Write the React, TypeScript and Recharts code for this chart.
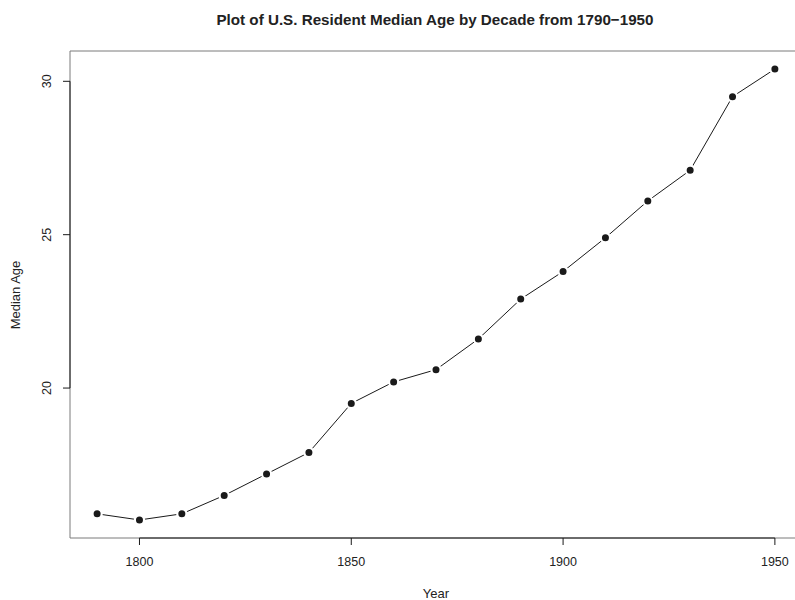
import {
  LineChart,
  Line,
  XAxis,
  YAxis,
  ReferenceArea,
  ReferenceLine,
  Customized,
} from "recharts";

// decade years and median age
const years = [1790, 1800, 1810, 1820, 1830, 1840, 1850, 1860, 1870, 1880, 1890, 1900, 1910, 1920, 1930, 1940, 1950];
const medianAge = [15.9, 15.7, 15.9, 16.5, 17.2, 17.9, 19.5, 20.2, 20.6, 21.6, 22.9, 23.8, 24.9, 26.1, 27.1, 29.5, 30.4];
const xTicks = [1800, 1850, 1900, 1950];
const yTicks = [20, 25, 30];

const title = "Plot of U.S. Resident Median Age by Decade from 1790\u22121950";

// R pads the data range by 4% on each side
const X_MIN = 1783.6;
const X_MAX = 1956.4;
const Y_MIN = 15.112;
const Y_MAX = 30.988;

const FONT = "'Liberation Sans', Arial, Helvetica, sans-serif";
const INK = "#1a1a1a";

const data = years.map((y, i) => ({ year: y, age: medianAge[i] }));

function XTick({ x, payload }: any) {
  return (
    <text
      x={x}
      y={562}
      textAnchor="middle"
      dominantBaseline="central"
      fontFamily={FONT}
      fontSize={12.5}
      fill="#222"
    >
      {payload.value}
    </text>
  );
}

function YTick({ y, payload }: any) {
  return (
    <text
      x={47}
      y={y}
      transform={`rotate(-90, 47, ${y})`}
      textAnchor="middle"
      dominantBaseline="central"
      fontFamily={FONT}
      fontSize={12.5}
      fill="#222"
    >
      {payload.value}
    </text>
  );
}

function Titles() {
  return (
    <g fontFamily={FONT} fill="#222">
      <text x={435} y={19} textAnchor="middle" dominantBaseline="central" fontSize={15.2} fontWeight="bold">
        {title}
      </text>
      <text x={436} y={593} textAnchor="middle" dominantBaseline="central" fontSize={13}>
        Year
      </text>
      <text
        x={15}
        y={295}
        transform="rotate(-90, 15, 295)"
        textAnchor="middle"
        dominantBaseline="central"
        fontSize={13}
      >
        Median Age
      </text>
    </g>
  );
}

export default function App() {
  return (
    <div style={{ position: "absolute", left: 0, top: 0, width: 795, height: 600, overflow: "hidden", background: "#fff" }}>
      <LineChart
        width={812}
        height={600}
        data={data}
        margin={{ top: 51, right: 10, bottom: 0, left: 0 }}
      >
        <XAxis
          dataKey="year"
          type="number"
          domain={[X_MIN, X_MAX]}
          ticks={xTicks}
          allowDataOverflow
          axisLine={false}
          tickLine={{ stroke: INK }}
          tickSize={7}
          tick={<XTick />}
          height={62}
        />
        <YAxis
          type="number"
          domain={[Y_MIN, Y_MAX]}
          ticks={yTicks}
          allowDataOverflow
          axisLine={false}
          tickLine={{ stroke: INK }}
          tickSize={7}
          tick={<YTick />}
          width={70}
        />
        <ReferenceArea
          x1={X_MIN}
          x2={X_MAX}
          y1={Y_MIN}
          y2={Y_MAX}
          fill="none"
          stroke="#7a7a7a"
          strokeWidth={1}
          ifOverflow="visible"
        />
        <ReferenceLine
          segment={[{ x: xTicks[0], y: Y_MIN }, { x: xTicks[xTicks.length - 1], y: Y_MIN }]}
          stroke={INK}
          ifOverflow="visible"
        />
        <ReferenceLine
          segment={[{ x: X_MIN, y: yTicks[0] }, { x: X_MIN, y: yTicks[yTicks.length - 1] }]}
          stroke={INK}
          ifOverflow="visible"
        />
        <Line
          dataKey="age"
          type="linear"
          stroke={INK}
          strokeWidth={1}
          dot={{ r: 4.6, fill: INK, stroke: "#fff", strokeWidth: 2.2 }}
          activeDot={false}
          isAnimationActive={false}
        />
        <Customized component={Titles} />
      </LineChart>
    </div>
  );
}
